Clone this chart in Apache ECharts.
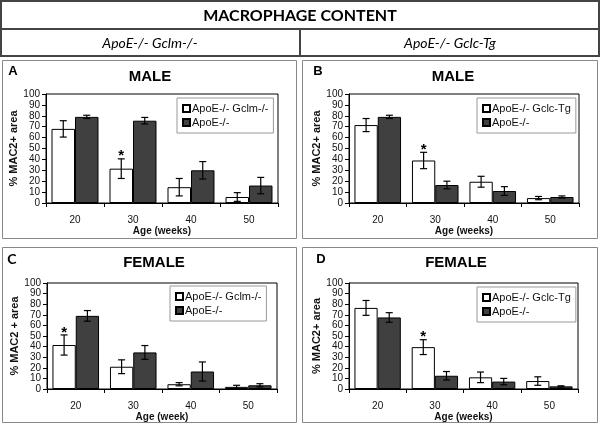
<!DOCTYPE html>
<html>
<head>
<meta charset="utf-8">
<script src="https://cdn.jsdelivr.net/npm/echarts@6/dist/echarts.min.js"></script>
<style>html,body{margin:0;padding:0;background:#fff;}#c{width:600px;height:427px;}</style>
</head>
<body>
<div id="c"></div>
<script>
var categories = ['20', '30', '40', '50'];
var yTicks = { min: 0, max: 100, interval: 10 };

// Panel A: male, Gclm
var aGclm = [68, 31.5, 14.5, 5.5];
var aGclmErr = [7.5, 9, 8, 4];
var aApoe = [79, 75.5, 30, 16];
var aApoeErr = [1.5, 3, 8, 7.5];
var aStar = [0, 1, 0, 0];
// Panel B: male, Gclc-Tg
var bGclc = [71.5, 39, 19.5, 4.5];
var bGclcErr = [6, 7.5, 5, 1.5];
var bApoe = [79, 16.5, 11, 5.5];
var bApoeErr = [1.5, 3.5, 4, 1];
var bStar = [0, 1, 0, 0];
// Panel C: female, Gclm
var cGclm = [41.5, 21, 4.5, 2];
var cGclmErr = [9.5, 6.5, 1.5, 1.5];
var cApoe = [69, 34.5, 16.5, 3.5];
var cApoeErr = [5, 6.5, 9, 1.5];
var cStar = [1, 0, 0, 0];
// Panel D: female, Gclc-Tg
var dGclc = [76.5, 39.5, 11, 7.5];
var dGclcErr = [7, 7, 5, 4];
var dApoe = [67.5, 12.5, 7, 2.5];
var dApoeErr = [4.5, 4, 3, 0.5];
var dStar = [0, 1, 0, 0];

var nGclm = 'ApoE-/- Gclm-/-';
var nGclc = 'ApoE-/- Gclc-Tg';
var nApoe = 'ApoE-/-';

var panels = [
  { grid: {left: 46, top: 94, width: 232, height: 109}, n1: nGclm, v1: aGclm, e1: aGclmErr, v2: aApoe, e2: aApoeErr, star: aStar,
    yName: '% MAC2+ area', xName: 'Age (weeks)', legend: {left: 177, top: 98} },
  { grid: {left: 349, top: 94, width: 230, height: 109}, n1: nGclc, v1: bGclc, e1: bGclcErr, v2: bApoe, e2: bApoeErr, star: bStar,
    yName: '% MAC2+ area', xName: 'Age (weeks)', legend: {left: 477, top: 98} },
  { grid: {left: 47, top: 283, width: 230, height: 106}, n1: nGclm, v1: cGclm, e1: cGclmErr, v2: cApoe, e2: cApoeErr, star: cStar,
    yName: '% MAC2 + area', xName: 'Age (week)', legend: {left: 170, top: 286} },
  { grid: {left: 349, top: 283, width: 229, height: 106}, n1: nGclc, v1: dGclc, e1: dGclcErr, v2: dApoe, e2: dApoeErr, star: dStar,
    yName: '% MAC2+ area', xName: 'Age (weeks)', legend: {left: 477, top: 287} }
];

var FONT = '"Liberation Sans", Arial, sans-serif';
var BAR_FRAC = 0.81;

function errRender(params, api) {
  var cat = api.value(0), v = api.value(1), e = api.value(2), side = api.value(3), star = api.value(4);
  var band = api.size([1, 0])[0];
  var bw = band * BAR_FRAC / 2;
  var cx = api.coord([cat, 0])[0] + (side === 0 ? -bw / 2 : bw / 2);
  var yT = api.coord([cat, v + e])[1];
  var yB = api.coord([cat, Math.max(0, v - e)])[1];
  var cap = 3.5;
  var st = { stroke: '#000', lineWidth: 1.2 };
  var ch = [
    { type: 'line', shape: { x1: cx, y1: yT, x2: cx, y2: yB }, style: st },
    { type: 'line', shape: { x1: cx - cap, y1: yT, x2: cx + cap, y2: yT }, style: st },
    { type: 'line', shape: { x1: cx - cap, y1: yB, x2: cx + cap, y2: yB }, style: st }
  ];
  if (star) {
    ch.push({ type: 'text', style: { x: cx, y: yT + 5, text: '*', fill: '#000', font: 'bold 15px ' + FONT, align: 'center', verticalAlign: 'bottom' } });
  }
  return { type: 'group', children: ch };
}

var option = {
  animation: false,
  backgroundColor: '#fff',
  grid: [], xAxis: [], yAxis: [], series: [], legend: [],
  graphic: []
};

panels.forEach(function (p, i) {
  option.grid.push(Object.assign({ show: true, borderColor: '#000', borderWidth: 1, backgroundColor: 'transparent' }, p.grid));
  option.xAxis.push({
    type: 'category', gridIndex: i, data: categories,
    axisLine: { lineStyle: { color: '#000', width: 1 } },
    axisTick: { show: true, length: 4, lineStyle: { color: '#000' } },
    axisLabel: { color: '#111', fontSize: 10, fontFamily: FONT, margin: 12 },
    name: p.xName, nameLocation: 'middle', nameGap: 21,
    nameTextStyle: { color: '#111', fontSize: 10, fontWeight: 'bold', fontFamily: FONT },
    splitLine: { show: false }
  });
  option.yAxis.push({
    type: 'value', gridIndex: i, min: yTicks.min, max: yTicks.max, interval: yTicks.interval,
    axisLine: { show: true, lineStyle: { color: '#000', width: 1 } },
    axisTick: { show: true, length: 4, lineStyle: { color: '#000' } },
    axisLabel: { color: '#111', fontSize: 10, fontFamily: FONT, margin: 6 },
    splitLine: { show: false },
    name: p.yName, nameLocation: 'middle', nameGap: 26, nameRotate: 90,
    nameTextStyle: { color: '#111', fontSize: 11, fontWeight: 'bold', fontFamily: FONT }
  });
  option.series.push({
    type: 'bar', name: p.n1, xAxisIndex: i, yAxisIndex: i, data: p.v1,
    barGap: '0%', barCategoryGap: '19%',
    itemStyle: { color: '#fff', borderColor: '#000', borderWidth: 1 }
  });
  option.series.push({
    type: 'bar', name: nApoe, xAxisIndex: i, yAxisIndex: i, data: p.v2,
    barGap: '0%', barCategoryGap: '19%',
    itemStyle: { color: '#404040', borderColor: '#000', borderWidth: 1 }
  });
  var ed = [];
  for (var k = 0; k < categories.length; k++) {
    ed.push([k, p.v1[k], p.e1[k], 0, p.star[k]]);
    ed.push([k, p.v2[k], p.e2[k], 1, 0]);
  }
  option.series.push({
    type: 'custom', xAxisIndex: i, yAxisIndex: i, data: ed, renderItem: errRender,
    encode: { x: 0, y: 1 }, z: 5, silent: true
  });
  option.legend.push({
    data: [p.n1, nApoe], orient: 'vertical', left: p.legend.left, top: p.legend.top,
    padding: [5, 5, 5, 5], itemGap: 3, itemWidth: 7, itemHeight: 7, icon: 'rect',
    borderColor: '#999', borderWidth: 1, backgroundColor: '#fff',
    textStyle: { fontSize: 11, color: '#111', fontFamily: FONT, padding: [0, 0, 0, -3] },
    selectedMode: false
  });
});

var txt = function (x, y, text, font, align) {
  return { type: 'text', x: x, y: y, style: { text: text, font: font, fill: '#000', align: align || 'center', verticalAlign: 'middle' }, z: 10 };
};

option.graphic = [
  { type: 'rect', shape: { x: 1, y: 1, width: 598, height: 55 }, style: { fill: 'none', stroke: '#444', lineWidth: 2 } },
  { type: 'line', shape: { x1: 1, y1: 29, x2: 599, y2: 29 }, style: { stroke: '#444', lineWidth: 2 } },
  { type: 'line', shape: { x1: 300, y1: 29, x2: 300, y2: 56 }, style: { stroke: '#444', lineWidth: 2 } },
  txt(300, 16, 'MACROPHAGE CONTENT', 'bold 16px Lato, "Open Sans", sans-serif'),
  txt(150, 43, 'ApoE-/- Gclm-/-', 'italic 14px Lato, "Open Sans", sans-serif'),
  txt(450, 43, 'ApoE-/- Gclc-Tg', 'italic 14px Lato, "Open Sans", sans-serif'),
  { type: 'rect', shape: { x: 2.5, y: 60.5, width: 294, height: 178 }, style: { fill: 'none', stroke: '#888', lineWidth: 1 } },
  { type: 'rect', shape: { x: 302.5, y: 60.5, width: 295, height: 178 }, style: { fill: 'none', stroke: '#888', lineWidth: 1 } },
  { type: 'rect', shape: { x: 2.5, y: 247.5, width: 294, height: 175 }, style: { fill: 'none', stroke: '#888', lineWidth: 1 } },
  { type: 'rect', shape: { x: 302.5, y: 247.5, width: 295, height: 175 }, style: { fill: 'none', stroke: '#888', lineWidth: 1 } },
  txt(13, 71, 'A', 'bold 13px ' + FONT),
  txt(318, 71, 'B', 'bold 13px ' + FONT),
  txt(12, 259, 'C', 'bold 14px Lato, sans-serif'),
  txt(321, 259, 'D', 'bold 13px ' + FONT),
  txt(150, 77, 'MALE', 'bold 15px ' + FONT),
  txt(453, 77, 'MALE', 'bold 15px ' + FONT),
  txt(154, 263, 'FEMALE', 'bold 15px ' + FONT),
  txt(456, 263, 'FEMALE', 'bold 15px ' + FONT)
];

var chart = echarts.init(document.getElementById('c'), null, { renderer: 'canvas' });
chart.setOption(option);
</script>
</body>
</html>
